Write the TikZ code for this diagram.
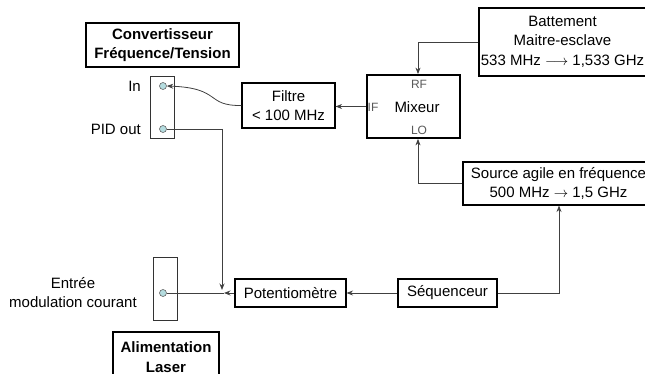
\documentclass[tikz,border=0pt]{standalone}
\usepackage{fontspec}
\setmainfont{Liberation Sans}
\usetikzlibrary{arrows.meta}
\definecolor{wire}{HTML}{404040}
\definecolor{plug}{HTML}{B4DCDF}
\begin{document}
\begin{tikzpicture}[x=1pt,y=-1pt,
  every node/.style={font=\fontsize{15}{18.5}\selectfont},
  blk/.style={draw=black,line width=1.1pt,inner sep=0pt,align=center},
  panel/.style={draw=black!80,line width=0.8pt,inner sep=0pt},
  jack/.style={circle,draw=black!60,fill=plug,line width=0.6pt,minimum size=7pt,inner sep=0pt},
  port/.style={font=\fontsize{12}{13}\selectfont,text=black!65,inner sep=0pt},
  conn/.style={draw=wire,line width=0.8pt},
  arr/.style={conn,-{Stealth[length=6.5pt,width=5pt]}}]
\useasboundingbox (0,0) rectangle (645,374);
\clip (0,0) rectangle (645,374);
% blocks
\node[blk,minimum width=153pt,minimum height=44pt,font=\fontsize{15}{18.5}\selectfont\bfseries] (conv) at (162.5,45) {Convertisseur\\Fréquence/Tension};
\node[panel,minimum width=24pt,minimum height=62pt] (p1) at (162,107) {};
\node[jack] (in) at (163,86) {};
\node[jack] (pid) at (163,129) {};
\node[anchor=east,inner sep=0pt] (lin) at (141,86) {In};
\node[anchor=east,inner sep=0pt] (lpid) at (141,129) {PID out};
\node[blk,minimum width=93pt,minimum height=45pt] (filtre) at (288.5,105.5) {Filtre\\< 100 MHz};
\node[blk,line width=1.8pt,minimum width=93pt,minimum height=63pt] (mix) at (413.5,106.5) {};
\node[inner sep=0pt] (lmix) at (417,107) {Mixeur};
\node[port] (rf) at (419,84) {RF};
\node[port] (lo) at (419,130) {LO};
\node[port] (if) at (373,107) {IF};
\node[blk,minimum width=167pt,minimum height=68pt] (batt) at (562.5,42) {Battement\\Maitre-esclave\\[2pt]533 MHz $\longrightarrow$ 1,533 GHz};
\node[blk,minimum width=191pt,minimum height=43pt] (src) at (558.5,183.5) {Source agile en fréquence\\500 MHz $\rightarrow$ 1,5 GHz};
\node[blk,minimum width=99pt,minimum height=28pt] (seq) at (447.5,293) {Séquenceur};
\node[blk,minimum width=111pt,minimum height=28pt] (pot) at (290.5,293) {Potentiomètre};
\node[panel,minimum width=24pt,minimum height=63pt] (p2) at (165,288.5) {};
\node[jack] (mod) at (163,293) {};
\node[align=center,inner sep=0pt] (lmod) at (73,292.5) {Entrée\\modulation courant};
\node[blk,minimum width=106pt,minimum height=50pt,font=\fontsize{15}{20}\selectfont\bfseries] (alim) at (166,357) {Alimentation\\Laser};
% connectors
\coordinate (pidc) at (222,129);
\coordinate (pidend) at (222,290);
\coordinate (junc) at (224,293);
\draw[arr] (batt.west |- 0,42) -| (mix.north -| 418,0);
\draw[arr] (src.west |- 0,183) -| (mix.south -| 418,0);
\draw[arr] (mix.west) -- (filtre.east |- mix.west);
\draw[arr] (filtre.west) .. controls (205,106) and (222,88) .. (in.east);
\draw[conn] (pid.east) -- (pidc);
\draw[arr] (pidc) -- (pidend);
\draw[arr] (pot.west) -- (junc);
\draw[conn] (mod.east) -- (junc);
\draw[arr] (seq.west) -- (pot.east);
\draw[arr] (seq.east) -| (src.south -| 559,0);
\end{tikzpicture}
\end{document}
